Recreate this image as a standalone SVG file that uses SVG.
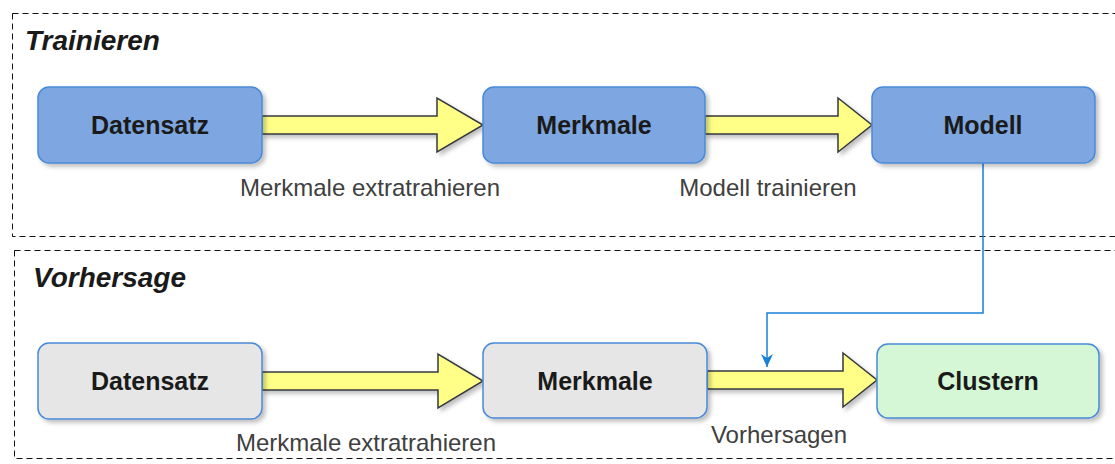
<svg xmlns="http://www.w3.org/2000/svg" width="1115" height="464" viewBox="0 0 1115 464">
<defs>
<style>
.grp{fill:none;stroke:#111;stroke-width:1;stroke-dasharray:6 4}
.title{font-family:"Liberation Sans",Arial,sans-serif;font-size:28px;font-weight:bold;font-style:italic;fill:#1a1a1a}
.nlabel{font-family:"Liberation Sans",Arial,sans-serif;font-size:25px;font-weight:bold;fill:#1a1a1a;text-anchor:middle}
.elabel{font-family:"Liberation Sans",Arial,sans-serif;font-size:24px;fill:#404040;text-anchor:middle}
.blue{fill:#7ea6e0;stroke:#4a8ad8;stroke-width:1.5}
.gray{fill:#e6e6e6;stroke:#4a8ad8;stroke-width:1.5}
.green{fill:#d5f7d5;stroke:#4a8ad8;stroke-width:1.5}
.flex{fill:#ffff88;stroke:#36393d;stroke-width:1.5;stroke-linejoin:miter}
.conn{fill:none;stroke:#1a7fd8;stroke-width:1.5}
</style>
<filter id="sh" x="-10%" y="-10%" width="130%" height="140%">
<feDropShadow dx="3" dy="3" stdDeviation="2" flood-color="#000" flood-opacity="0.25"/>
</filter>
<marker id="ah" markerWidth="14" markerHeight="12" refX="13" refY="6" orient="auto" markerUnits="userSpaceOnUse" viewBox="0 0 14 12">
<path d="M0,0 L13,6 L0,12 L4,6 Z" fill="#1a7fd8"/>
</marker>
</defs>

<g id="group-trainieren">
<rect class="grp" x="12.5" y="13.5" width="1110" height="223"/>
<text class="title" x="25" y="50">Trainieren</text>
</g>
<g id="group-vorhersage">
<rect class="grp" x="14.5" y="250.5" width="1110" height="208"/>
<text class="title" x="33" y="287">Vorhersage</text>
</g>

<g id="connectors">
<path class="flex" filter="url(#sh)" d="M262,116 L437,116 L437,98 L483,125 L437,152 L437,134 L262,134 Z"/>
<path class="flex" filter="url(#sh)" d="M705,116 L838,116 L838,98 L872,125 L838,152 L838,134 L705,134 Z"/>
<path class="flex" filter="url(#sh)" d="M262,372 L438,372 L438,354 L483,381 L438,408 L438,390 L262,390 Z"/>
<path class="flex" filter="url(#sh)" d="M707,371 L843,371 L843,353 L877,380 L843,407 L843,389 L707,389 Z"/>
<path class="conn" d="M983,163 L983,313 L767,313 L767,367" marker-end="url(#ah)"/>
<text class="elabel" x="370" y="196">Merkmale extratrahieren</text>
<text class="elabel" x="768" y="196">Modell trainieren</text>
<text class="elabel" x="366" y="451">Merkmale extratrahieren</text>
<text class="elabel" x="779" y="443">Vorhersagen</text>
</g>

<g id="node-datensatz-train">
<rect class="blue" filter="url(#sh)" x="38" y="87" width="224" height="76" rx="11"/>
<text class="nlabel" x="150" y="134">Datensatz</text>
</g>
<g id="node-merkmale-train">
<rect class="blue" filter="url(#sh)" x="483" y="87" width="222" height="76" rx="11"/>
<text class="nlabel" x="594" y="134">Merkmale</text>
</g>
<g id="node-modell">
<rect class="blue" filter="url(#sh)" x="872" y="87" width="223" height="76" rx="11"/>
<text class="nlabel" x="983" y="134">Modell</text>
</g>
<g id="node-datensatz-pred">
<rect class="gray" filter="url(#sh)" x="38" y="343" width="224" height="76" rx="11"/>
<text class="nlabel" x="150" y="390">Datensatz</text>
</g>
<g id="node-merkmale-pred">
<rect class="gray" filter="url(#sh)" x="483" y="343" width="224" height="75" rx="11"/>
<text class="nlabel" x="595" y="390">Merkmale</text>
</g>
<g id="node-clustern">
<rect class="green" filter="url(#sh)" x="877" y="344" width="222" height="74" rx="11"/>
<text class="nlabel" x="988" y="390">Clustern</text>
</g>
</svg>
